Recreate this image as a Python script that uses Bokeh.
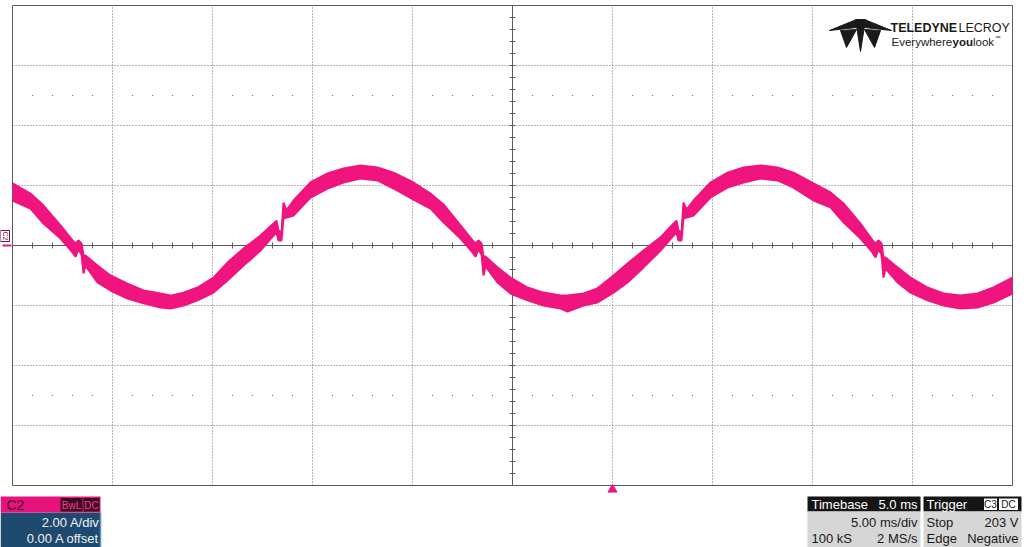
import math
from bokeh.plotting import figure
from bokeh.models import Range1d, Label
from bokeh.embed import file_html
from bokeh.resources import INLINE

# ---------------- data ----------------
t_ms = [0.00, 0.90, 1.55, 2.40, 3.00, 3.15, 3.30, 3.45, 3.55, 3.65, 4.25, 4.90, 5.75, 6.55, 7.40, 7.90,
        8.55, 9.25, 10.05, 10.75, 11.55, 12.40, 13.05, 13.20, 13.30, 13.45, 13.55, 13.70, 14.05, 14.90,
        15.75, 16.55, 17.40, 18.25, 19.05, 20.05,
        20.90, 21.55, 22.40, 23.00, 23.15, 23.30, 23.45, 23.55, 23.65, 24.25, 24.90, 25.75, 26.55, 27.40,
        27.75, 28.55, 29.25, 30.05, 30.75, 31.55, 32.40, 33.05, 33.20, 33.30, 33.45, 33.55, 33.70, 34.05,
        34.90, 35.75, 36.55, 37.40, 38.25, 39.05, 40.05,
        40.90, 41.55, 42.40, 43.00, 43.15, 43.30, 43.45, 43.55, 43.65, 44.25, 44.90, 45.75, 46.55, 47.40,
        48.25, 49.05, 50.00]
i_hi = [2.07, 1.73, 1.33, 0.67, 0.17, 0.07, 0.17, 0.07, -0.33, -0.33, -0.67, -1.00, -1.27, -1.50, -1.60, -1.67,
        -1.57, -1.40, -1.07, -0.57, -0.10, 0.33, 0.73, 0.83, 0.50, 0.43, 1.43, 1.17, 1.50, 2.10,
        2.40, 2.57, 2.67, 2.60, 2.43, 2.10,
        1.73, 1.37, 0.67, 0.17, 0.07, 0.17, 0.07, -0.37, -0.37, -0.73, -1.07, -1.40, -1.57, -1.67,
        -1.67, -1.60, -1.43, -1.00, -0.60, -0.17, 0.27, 0.73, 0.83, 0.50, 0.43, 1.43, 1.20, 1.50,
        2.10, 2.43, 2.60, 2.67, 2.60, 2.43, 2.07,
        1.77, 1.40, 0.73, 0.17, 0.07, 0.17, 0.07, -0.40, -0.40, -0.73, -1.07, -1.40, -1.60, -1.67,
        -1.60, -1.40, -1.07]
i_lo = [1.50, 1.23, 0.73, 0.23, -0.23, -0.37, -0.13, -0.30, -0.93, -0.67, -1.23, -1.50, -1.77, -1.93, -2.07, -2.10,
        -2.00, -1.83, -1.57, -1.17, -0.67, -0.17, 0.33, 0.43, 0.17, 0.17, 0.90, 0.93, 1.00, 1.60,
        1.90, 2.10, 2.23, 2.17, 1.90, 1.53,
        1.23, 0.77, 0.23, -0.23, -0.37, -0.13, -0.30, -1.00, -0.70, -1.23, -1.60, -1.83, -2.00, -2.10,
        -2.20, -2.00, -1.90, -1.57, -1.23, -0.73, -0.17, 0.33, 0.43, 0.17, 0.17, 0.90, 0.93, 1.00,
        1.60, 1.93, 2.10, 2.23, 2.17, 1.93, 1.50,
        1.27, 0.77, 0.23, -0.23, -0.40, -0.13, -0.30, -1.07, -0.77, -1.23, -1.57, -1.83, -2.00, -2.10,
        -2.07, -1.90, -1.60]

ms_per_div = 5.0
amps_per_div = 2.0
n_hdiv = 10
n_vdiv = 8
trigger_ms = 30.0

channel_name = "C2"
channel_flags = ["BwL", "DC"]
channel_lines = ["2.00 A/div", "0.00 A offset"]
timebase_head = ["Timebase", "5.0 ms"]
timebase_rows = [["", "5.00 ms/div"], ["100 kS", "2 MS/s"]]
trigger_head = "Trigger"
trigger_flags = ["C3", "DC"]
trigger_rows = [["Stop", "203 V"], ["Edge", "Negative"]]

# ---------------- layout helpers ----------------
W, H = 1024, 547
X0_PX, Y0_PX = 12, 245          # screen position of t=0 / 0 A
PX_PER_MS = 100 / ms_per_div
PX_PER_A = 60 / amps_per_div


def px_x(px):
    return (px - X0_PX) / PX_PER_MS


def px_y(py):
    return (Y0_PX - py) / PX_PER_A


FONT = "Liberation Sans"
PINK = "#F0147E"
GRID = "#6e6e6e"
FRAME = "#5c5c5c"

p = figure(width=W, height=H,
           x_range=Range1d(px_x(0), px_x(W)), y_range=Range1d(px_y(H), px_y(0)),
           x_axis_type=None, y_axis_type=None, toolbar_location=None,
           output_backend="svg", min_border=0, outline_line_color=None,
           background_fill_color="white", border_fill_color="white")
p.styles = {"position": "absolute", "left": "0px", "top": "0px"}

t_end = n_hdiv * ms_per_div
a_top = n_vdiv / 2 * amps_per_div
t_mid = t_end / 2

# dotted grid
vx = [k * ms_per_div for k in range(1, n_hdiv) if k != n_hdiv // 2]
p.segment(x0=vx, y0=[-a_top] * len(vx), x1=vx, y1=[a_top] * len(vx),
          line_color=GRID, line_dash="1 2", line_width=1)
hy = [k * amps_per_div for k in range(-n_vdiv // 2 + 1, n_vdiv // 2) if k != 0]
p.segment(x0=[0] * len(hy), y0=hy, x1=[t_end] * len(hy), y1=hy,
          line_color=GRID, line_dash="1 2", line_width=1)

# sparse dot rows
dot_t = [k * ms_per_div / 5 for k in range(1, n_hdiv * 5) if k % 5 != 0]
for yy in (2.5 * amps_per_div, -2.5 * amps_per_div):
    p.scatter(x=dot_t, y=[yy] * len(dot_t), marker="square", size=1.2,
              fill_color="#7a7a7a", line_color=None)

# frame
p.segment(x0=[0, 0, 0, t_end], y0=[a_top, -a_top, -a_top, -a_top],
          x1=[t_end, t_end, 0, t_end], y1=[a_top, -a_top, a_top, a_top],
          line_color=FRAME, line_width=1)

# centre cross with ticks
p.segment(x0=[0, t_mid], y0=[0, -a_top], x1=[t_end, t_mid], y1=[0, a_top],
          line_color=FRAME, line_width=1)
tk_x = [k * ms_per_div / 5 for k in range(1, n_hdiv * 5)]
tl_y = 3 / PX_PER_A
p.segment(x0=tk_x, y0=[-tl_y] * len(tk_x), x1=tk_x, y1=[tl_y] * len(tk_x),
          line_color=FRAME, line_width=1)
tk_y = [k * amps_per_div / 5 for k in range(-n_vdiv // 2 * 5 + 1, n_vdiv // 2 * 5)]
tl_x = 3 / PX_PER_MS
p.segment(x0=[t_mid - tl_x] * len(tk_y), y0=tk_y, x1=[t_mid + tl_x] * len(tk_y), y1=tk_y,
          line_color=FRAME, line_width=1)

# waveform band
p.varea(x=t_ms, y1=i_lo, y2=i_hi, fill_color=PINK)
p.line(x=t_ms, y=i_hi, line_color=PINK, line_width=2)
p.line(x=t_ms, y=i_lo, line_color=PINK, line_width=2)

# trigger marker
p.scatter(x=[trigger_ms], y=[px_y(489)], marker="triangle", size=9,
          fill_color=PINK, line_color=PINK)

# channel zero marker and tag on left
p.segment(x0=[px_x(2)], y0=[0], x1=[px_x(11)], y1=[0], line_color=PINK, line_width=2)
p.quad(left=[px_x(0)], right=[px_x(9)], top=[px_y(230)], bottom=[px_y(241)],
       fill_color="white", line_color="#6a1040", line_width=1)
p.add_layout(Label(x=px_x(4.5), y=px_y(235.5), text=channel_name, angle=-math.pi / 2,
                   text_font=FONT, text_font_size="7px", text_color="#6a1040",
                   text_align="center", text_baseline="middle"))

# ---- logo ----
logo_polys = [
    [(829, 30), (856, 19), (856, 27)],
    [(840, 30), (856, 29), (846, 47)],
    [(855, 19), (865, 19), (860, 51)],
    [(864, 19), (891, 30), (864, 27)],
    [(864, 29), (880, 30), (874, 47)],
]
p.patches(xs=[[px_x(a) for a, b in poly] for poly in logo_polys],
          ys=[[px_y(b) for a, b in poly] for poly in logo_polys],
          fill_color="#1a1a1a", line_color="#1a1a1a")


def lab(px, py, text, size, color, align="left", bold=False, font=FONT):
    p.add_layout(Label(x=px_x(px), y=px_y(py), text=text, text_font=font,
                       text_font_size=f"{size}px", text_color=color,
                       text_align=align, text_baseline="middle",
                       text_font_style="bold" if bold else "normal"))


lab(890, 27, "TELEDYNE", 12.5, "#1a1a1a", bold=True)
lab(958, 27, "LECROY", 12.5, "#1a1a1a")
lab(891, 41, "Everywhere", 11.5, "#1a1a1a")
lab(952, 41, "you", 11.5, "#1a1a1a", bold=True)
lab(972.5, 41, "look", 11.5, "#1a1a1a")
lab(994, 37, "™", 6, "#1a1a1a")

# ---- channel panel (bottom left) ----
p.quad(left=[px_x(0)], right=[px_x(100)], top=[px_y(512)], bottom=[px_y(547)],
       fill_color="#1f4a6f", line_color=None)
p.segment(x0=[px_x(100)], y0=[px_y(512)], x1=[px_x(100)], y1=[px_y(547)],
          line_color="#5a93c8", line_width=1.5)
p.quad(left=[px_x(0)], right=[px_x(100)], top=[px_y(496)], bottom=[px_y(512)],
       fill_color="#E8127C", line_color=None)
lab(6, 504.5, channel_name, 14, "#4a0a24")
for (l, r), txt in zip([(60, 82), (83, 99)], channel_flags):
    p.quad(left=[px_x(l)], right=[px_x(r)], top=[px_y(497.5)], bottom=[px_y(511)],
           fill_color="#3a0a1e", line_color=None)
    lab((l + r) / 2, 504.5, txt, 10, "#ff3c9a", align="center")
lab(99, 522, channel_lines[0], 13, "#f0f0f0", align="right")
lab(99, 538, channel_lines[1], 13, "#f0f0f0", align="right")

# ---- timebase panel ----
p.quad(left=[px_x(807)], right=[px_x(920)], top=[px_y(496)], bottom=[px_y(511)],
       fill_color="#151515", line_color=None)
p.quad(left=[px_x(807)], right=[px_x(920)], top=[px_y(511)], bottom=[px_y(547)],
       fill_color="#d6d6d6", line_color=None)
lab(811, 503.5, timebase_head[0], 13, "white")
lab(917, 503.5, timebase_head[1], 13, "white", align="right")
for row, py in zip(timebase_rows, (522, 538)):
    lab(811, py, row[0], 13, "#1a1a1a")
    lab(917, py, row[1], 13, "#1a1a1a", align="right")

# ---- trigger panel ----
p.quad(left=[px_x(923)], right=[px_x(1021)], top=[px_y(496)], bottom=[px_y(511)],
       fill_color="#151515", line_color=None)
p.quad(left=[px_x(923)], right=[px_x(1021)], top=[px_y(511)], bottom=[px_y(547)],
       fill_color="#d6d6d6", line_color=None)
lab(926, 503.5, trigger_head, 13, "white")
for (l, r), txt in zip([(983, 997), (998, 1018)], trigger_flags):
    p.quad(left=[px_x(l)], right=[px_x(r)], top=[px_y(497.5)], bottom=[px_y(510)],
           fill_color="white", line_color="#151515", line_width=1)
    lab((l + r) / 2, 504, txt, 10, "#151515", align="center")
for row, py in zip(trigger_rows, (522, 538)):
    lab(926, py, row[0], 13, "#1a1a1a")
    lab(1018, py, row[1], 13, "#1a1a1a", align="right")

open("out.html", "w").write(file_html(p, INLINE))
